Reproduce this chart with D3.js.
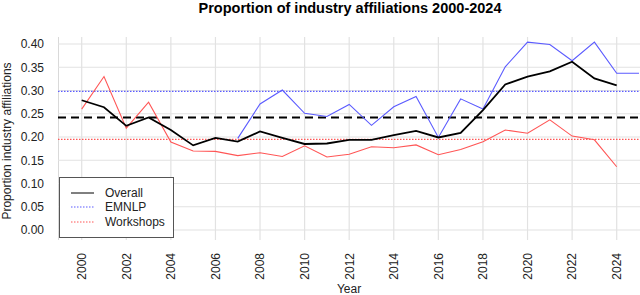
<!DOCTYPE html>
<html><head><meta charset="utf-8">
<script src="https://cdn.jsdelivr.net/npm/d3@7"></script>
<style>body{margin:0;background:#fff}svg{display:block;font-family:"Liberation Sans",Arial,sans-serif}</style>
</head><body>
<svg id="c" width="640" height="295"></svg>
<script>
const years = [2000,2001,2002,2003,2004,2005,2006,2007,2008,2009,2010,2011,2012,2013,2014,2015,2016,2017,2018,2019,2020,2021,2022,2023,2024];
const overall = [0.279,0.264,0.224,0.242,0.215,0.182,0.198,0.190,0.212,0.198,0.185,0.186,0.194,0.194,0.204,0.213,0.199,0.209,0.258,0.313,0.330,0.341,0.362,0.326,0.311];
const emnlpYears = [2007,2008,2009,2010,2011,2012,2013,2014,2015,2016,2017,2018,2019,2020,2021,2022,2023,2024,2025];
const emnlp = [0.197,0.271,0.301,0.251,0.244,0.270,0.225,0.265,0.287,0.199,0.282,0.260,0.351,0.404,0.399,0.364,0.404,0.337,0.337];
const workshops = [0.260,0.330,0.219,0.275,0.189,0.170,0.169,0.160,0.166,0.158,0.181,0.157,0.163,0.179,0.177,0.183,0.162,0.173,0.190,0.215,0.208,0.237,0.202,0.194,0.136];
const means = {overall:0.242, emnlp:0.298, workshops:0.195};
const xTicks = d3.range(2000, 2025, 2);
const yTicks = [0,0.05,0.10,0.15,0.20,0.25,0.30,0.35,0.40];
const legendLabels = ["Overall","EMNLP","Workshops"];
const colors = {overall:"#000000", emnlp:"#5b5bff", workshops:"#ff5555"};

const svg = d3.select("#c");
const P = {l:58, r:640, t:37, b:240};
const x = d3.scaleLinear().domain([2000,2024]).range([81.7,616.7]);
const y = d3.scaleLinear().domain([0,0.4]).range([230,44]);

svg.append("defs").append("clipPath").attr("id","clip").append("rect")
  .attr("x",P.l).attr("y",P.t).attr("width",P.r-P.l).attr("height",P.b-P.t);

// grid
const g = svg.append("g").attr("clip-path","url(#clip)");
g.append("line").attr("x1",P.l+0.5).attr("x2",P.l+0.5).attr("y1",P.t).attr("y2",P.b).attr("stroke","#d9d9d9");
g.selectAll(".vg").data(xTicks).join("line").attr("x1",d=>x(d)).attr("x2",d=>x(d))
  .attr("y1",P.t).attr("y2",P.b).attr("stroke","#e2e2e2").attr("stroke-width",1.2);
g.selectAll(".hg").data(yTicks).join("line").attr("y1",d=>y(d)).attr("y2",d=>y(d))
  .attr("x1",P.l).attr("x2",P.r).attr("stroke","#e2e2e2").attr("stroke-width",1.2);

// reference lines
g.append("line").attr("x1",P.l).attr("x2",P.r).attr("y1",y(means.emnlp)).attr("y2",y(means.emnlp))
  .attr("stroke",colors.emnlp).attr("stroke-width",1.3).attr("stroke-dasharray","1.5,1.5");
g.append("line").attr("x1",P.l).attr("x2",P.r).attr("y1",y(means.workshops)).attr("y2",y(means.workshops))
  .attr("stroke",colors.workshops).attr("stroke-width",1.3).attr("stroke-dasharray","1.5,1.5");
g.append("line").attr("x1",P.l).attr("x2",P.r).attr("y1",y(means.overall)).attr("y2",y(means.overall))
  .attr("stroke","#000").attr("stroke-width",2).attr("stroke-dasharray","8,5");

const line = d3.line().x(d=>x(d[0])).y(d=>y(d[1]));
g.append("path").datum(years.map((d,i)=>[d,workshops[i]])).attr("d",line)
  .attr("fill","none").attr("stroke",colors.workshops).attr("stroke-width",1.1);
g.append("path").datum(emnlpYears.map((d,i)=>[d,emnlp[i]])).attr("d",line)
  .attr("fill","none").attr("stroke",colors.emnlp).attr("stroke-width",1.1);
g.append("path").datum(years.map((d,i)=>[d,overall[i]])).attr("d",line)
  .attr("fill","none").attr("stroke",colors.overall).attr("stroke-width",1.8);

// y axis labels
svg.selectAll(".yl").data(yTicks).join("text").attr("x",44).attr("y",d=>y(d)+4.3)
  .attr("text-anchor","end").attr("font-size",12).attr("fill","#222").text(d=>d3.format(".2f")(d));
// x axis labels
svg.selectAll(".xl").data(xTicks).join("text")
  .attr("transform",d=>`translate(${x(d)+4.3},253) rotate(-90)`)
  .attr("text-anchor","end").attr("font-size",12).attr("fill","#222").text(d=>d);

svg.append("text").attr("x",349).attr("y",293).attr("text-anchor","middle").attr("font-size",12).attr("fill","#222").text("Year");
svg.append("text").attr("transform","translate(10.5,141) rotate(-90)").attr("text-anchor","middle")
  .attr("font-size",12).attr("fill","#222").text("Proportion industry affiliations");
svg.append("text").attr("x",350).attr("y",12.5).attr("text-anchor","middle").attr("font-size",14.5)
  .attr("font-weight","bold").attr("fill","#000").text("Proportion of industry affiliations 2000-2024");

// legend
const lg = svg.append("g");
lg.append("rect").attr("x",59.5).attr("y",177.5).attr("width",114).attr("height",60)
  .attr("fill","#fff").attr("stroke","#555");
const keys = ["overall","emnlp","workshops"];
const ly = [193,207,222];
keys.forEach((k,i)=>{
  lg.append("line").attr("x1",71).attr("x2",94).attr("y1",ly[i]).attr("y2",ly[i])
    .attr("stroke",colors[k]).attr("stroke-width",1)
    .attr("stroke-dasharray",k==="overall"?null:"1.5,1.5");
  lg.append("text").attr("x",105).attr("y",ly[i]+4.3).attr("font-size",12).attr("fill","#222").text(legendLabels[i]);
});
</script>
</body></html>
